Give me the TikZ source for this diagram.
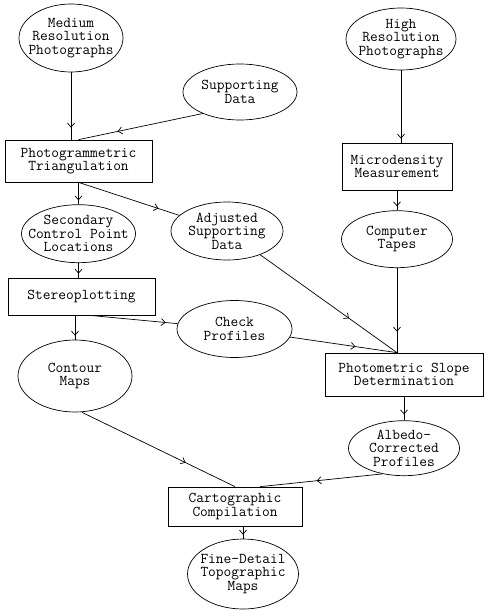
\documentclass[tikz,border=0pt]{standalone}
\usetikzlibrary{arrows.meta,positioning,shapes.geometric,decorations.markings}

\begin{document}
\begin{tikzpicture}[x=1pt, y=-1pt, line width=0.7pt, node distance=20pt,
  >={Straight Barb[length=4pt, width=7pt]},
  txt/.style={font=\fontsize{15}{13.5}\selectfont\ttfamily, align=center},
  proc/.style={draw, rectangle, txt, inner sep=0pt},
  blob/.style={draw, ellipse, inner sep=0pt, label={[txt]center:#1}},
  midtip/.style={postaction={decorate}, decoration={markings, mark=at position #1 with {\arrow{>}}}}]
\useasboundingbox (0,0) rectangle (484,610);
% left column
\node[blob={Medium\\Resolution\\Photographs}, minimum width=104pt, minimum height=68pt] (med) at (71,38) {};
\node[blob={Supporting\\Data}, minimum width=114pt, minimum height=56pt] (supp) at (240,92) {};
\node[proc, minimum width=147pt, minimum height=42pt] (photog) at (78.5,161) {Photogrammetric\\Triangulation};
\node[blob={Secondary\\Control Point\\Locations}, minimum width=114pt, minimum height=58pt, below=22pt of photog] (second) {};
\node[blob={Adjusted\\Supporting\\Data}, minimum width=112pt, minimum height=58pt] (adjust) at (227,231) {};
\node[proc, minimum width=147pt, minimum height=37pt] (stereo) at (81.5,296.5) {Stereoplotting};
\node[blob={Check\\Profiles}, minimum width=115pt, minimum height=57pt] (check) at (234.5,329) {};
\node[blob={Contour\\Maps}, minimum width=114pt, minimum height=72pt] (contour) at (75,376) {};
% right column
\node[blob={High\\Resolution\\Photographs}, minimum width=110pt, minimum height=62pt] (high) at (401,39) {};
\node[proc, minimum width=110pt, minimum height=47pt] (micro) at (397,166.5) {Microdensity\\Measurement};
\node[blob={Computer\\Tapes}, minimum width=111pt, minimum height=57pt, below=of micro] (computer) {};
\node[proc, minimum width=158pt, minimum height=43pt] (photom) at (404,374.5) {Photometric Slope\\Determination};
\node[blob={Albedo-\\Corrected\\Profiles}, minimum width=111pt, minimum height=55pt, below=24pt of photom] (albedo) {};
% bottom
\node[proc, minimum width=134pt, minimum height=39pt] (carto) at (235,506.5) {Cartographic\\Compilation};
\node[blob={Fine-Detail\\Topographic\\Maps}, minimum width=111pt, minimum height=70pt] (fine) at (243,574) {};

\draw[midtip=-12pt] (med.south) -- (med.south |- photog.north);
\draw[midtip=-40pt] (supp.-150) -- (photog.north);
\draw[midtip=-4pt] (high.south) -- (high.south |- micro.north);
\draw[midtip=-4pt] (second.north |- photog.south) -- (second.north);
\draw[midtip=-22pt] (photog.south) -- (adjust);
\draw[midtip=-4pt] (computer.north |- micro.south) -- (computer.north);
\draw[midtip=-4pt] (second.south) -- (second.south |- stereo.north);
\draw[midtip=-4pt] (contour.north |- stereo.south) -- (contour.north);
\draw[midtip=-12pt] ([xshift=8pt]stereo.south) -- (check);
\coordinate (join) at (computer.south |- photom.north);
\draw[midtip=-21pt] (computer.south) -- (join);
\draw[midtip=-59pt] (adjust) -- (join);
\draw[midtip=-42pt] (check) -- (join);
\draw[midtip=-6pt] (albedo.north |- photom.south) -- (albedo.north);
\draw[midtip=-55pt] ([xshift=7pt]contour.south) -- (carto.north);
\draw[midtip=-57pt] (albedo.-130) -- ([xshift=25pt]carto.north);
\draw[midtip=-4pt] (fine.north |- carto.south) -- (fine.north);
\end{tikzpicture}
\end{document}
